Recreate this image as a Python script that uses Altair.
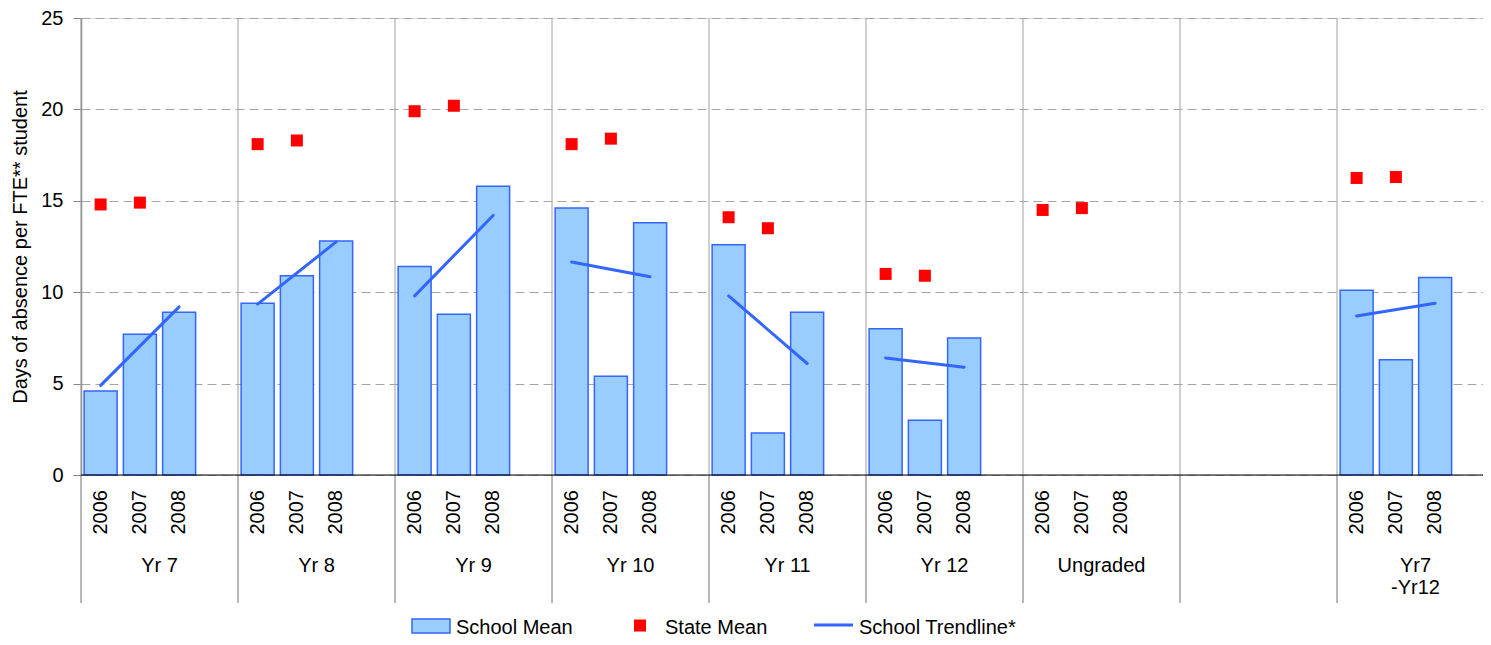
import altair as alt
import pandas as pd

# ---- data ----
groups = ["Yr 7", "Yr 8", "Yr 9", "Yr 10", "Yr 11", "Yr 12", "Ungraded", "", "Yr7\n-Yr12"]
years = ["2006", "2007", "2008"]

school_2006 = [4.6, 9.4, 11.4, 14.6, 12.6, 8.0, None, None, 10.1]
school_2007 = [7.7, 10.9, 8.8, 5.4, 2.3, 3.0, None, None, 6.3]
school_2008 = [8.9, 12.8, 15.8, 13.8, 8.9, 7.5, None, None, 10.8]

state_2006 = [14.8, 18.1, 19.9, 18.1, 14.1, 11.0, 14.5, None, 16.25]
state_2007 = [14.9, 18.3, 20.2, 18.4, 13.5, 10.9, 14.6, None, 16.3]

trend_2006 = [4.9, 9.35, 9.8, 11.65, 9.8, 6.4, None, None, 8.7]
trend_2008 = [9.2, 12.75, 14.2, 10.85, 6.1, 5.9, None, None, 9.4]

y_ticks = [0, 5, 10, 15, 20, 25]
legend_labels = ["School Mean", "State Mean", "School Trendline*"]
y_title = "Days of absence per FTE** student"

# ---- layout / style ----
W, H = 1402, 457
GROUP_PX = 157.0
SLOTS = 4
FONT = "Liberation Sans, Arial, Helvetica, sans-serif"
BAR_FILL = "#99CCFF"
BAR_STROKE = "#3366FF"
LINE_COLOR = "#3366FF"
RED = "#FF0000"

school = [school_2006, school_2007, school_2008]
state = [state_2006, state_2007, [None] * len(groups)]

rows = []
for g, name in enumerate(groups):
    for yi, yr in enumerate(years):
        rows.append({
            "group": name,
            "year": yr,
            "center": g * SLOTS + yi + 0.5,
            "school": school[yi][g],
            "state": state[yi][g],
        })
df = pd.DataFrame(rows)

bars_df = df.dropna(subset=["school"])
state_df = df.dropna(subset=["state"])
years_df = df[df["group"] != ""]

trend_rows = []
for g, name in enumerate(groups):
    if trend_2006[g] is not None:
        trend_rows.append({"group": name, "x1": g * SLOTS + 0.5, "x2": g * SLOTS + 2.5,
                           "y1": trend_2006[g], "y2": trend_2008[g]})
trend_df = pd.DataFrame(trend_rows)

group_df = pd.DataFrame({"group": groups, "gcenter": [g * SLOTS + 2 for g in range(len(groups))]})
group_df = group_df[group_df["group"] != ""]
sep_df = pd.DataFrame({"sep": [g * SLOTS for g in range(len(groups))]})

xscale = alt.Scale(domain=[0, SLOTS * W / GROUP_PX], nice=False, zero=False, padding=0)
yscale = alt.Scale(domain=[0, 25], nice=False, padding=0)

yaxis = alt.Axis(values=y_ticks, grid=True, gridDash=[9, 5],
                 gridColor="#a6a6a6", gridWidth=1, domainColor="#868686",
                 domainWidth=1.5, tickColor="#868686", tickSize=8, tickWidth=1,
                 labelFontSize=20, labelColor="#000000", labelPadding=10,
                 labelFont=FONT, titleFont=FONT,
                 titleFontSize=20, titleFontWeight="normal", titleColor="#000000",
                 titleX=-61, titleY=H / 2, titleAngle=270, titleAlign="center",
                 titleBaseline="middle")


def Y(field):
    return alt.Y(field, scale=yscale, axis=yaxis, title=y_title)


def X(field):
    return alt.X(field, scale=xscale, axis=None)


bars = alt.Chart(bars_df).mark_bar(
    size=33, fill=BAR_FILL, stroke=BAR_STROKE, strokeWidth=1.5
).encode(x=X("center:Q"), y=Y("school:Q"))

sep_top = alt.Chart(sep_df).mark_rule(color="#a0a0a0", strokeWidth=1).encode(
    x=X("sep:Q"), y=alt.value(0), y2=alt.value(H))
sep_bottom = alt.Chart(sep_df).mark_rule(color="#707070", strokeWidth=1).encode(
    x=X("sep:Q"), y=alt.value(H), y2=alt.value(585))

baseline = alt.Chart(pd.DataFrame({"v": [0]})).mark_rule(color="#000000", strokeWidth=1).encode(
    x=alt.value(0), x2=alt.value(W), y=alt.value(H))

points = alt.Chart(state_df).mark_point(
    shape="square", filled=True, size=144, color=RED, opacity=1
).encode(x=X("center:Q"), y=Y("state:Q"))

trend = alt.Chart(trend_df).mark_rule(color=LINE_COLOR, strokeWidth=3, strokeCap="round").encode(
    x=X("x1:Q"), x2="x2:Q", y=Y("y1:Q"), y2="y2:Q")

year_labels = alt.Chart(years_df).mark_text(
    angle=270, align="right", baseline="middle", fontSize=20, font=FONT, color="#000000"
).encode(x=X("center:Q"), y=alt.value(472), text="year:N")

group_labels = alt.Chart(group_df).mark_text(
    align="center", baseline="alphabetic", fontSize=20, font=FONT, color="#000000",
    lineBreak="\n", lineHeight=22
).encode(x=X("gcenter:Q"), y=alt.value(554), text="group:N")

# ---- legend (drawn below the axis) ----
leg1 = pd.DataFrame({"label": [legend_labels[0]]})
leg2 = pd.DataFrame({"label": [legend_labels[1]]})
leg3 = pd.DataFrame({"label": [legend_labels[2]]})
LY = 616  # legend text baseline (plot coords)

leg_rect = alt.Chart(leg1).mark_rect(fill=BAR_FILL, stroke=BAR_STROKE, strokeWidth=1.5).encode(
    x=alt.value(331), x2=alt.value(369), y=alt.value(LY - 15), y2=alt.value(LY - 1))
leg_text1 = alt.Chart(leg1).mark_text(align="left", baseline="alphabetic", fontSize=20,
                                      font=FONT, color="#000000").encode(
    x=alt.value(375), y=alt.value(LY), text="label:N")
leg_sq = alt.Chart(leg2).mark_point(shape="square", filled=True, size=144, color=RED, opacity=1).encode(
    x=alt.value(559), y=alt.value(LY - 8.5))
leg_text2 = alt.Chart(leg2).mark_text(align="left", baseline="alphabetic", fontSize=20,
                                      font=FONT, color="#000000").encode(
    x=alt.value(584), y=alt.value(LY), text="label:N")
leg_line = alt.Chart(leg3).mark_rule(color=LINE_COLOR, strokeWidth=3).encode(
    x=alt.value(733), x2=alt.value(772), y=alt.value(LY - 9))
leg_text3 = alt.Chart(leg3).mark_text(align="left", baseline="alphabetic", fontSize=20,
                                      font=FONT, color="#000000").encode(
    x=alt.value(778), y=alt.value(LY), text="label:N")

chart = alt.layer(
    bars, sep_top, sep_bottom, baseline, points, trend, year_labels, group_labels,
    leg_rect, leg_text1, leg_sq, leg_text2, leg_line, leg_text3,
).properties(
    width=W, height=H,
    autosize=alt.AutoSizeParams(type="none"),
    padding={"left": 73, "top": 10, "right": 0, "bottom": 164},
).configure_view(strokeWidth=0).configure(font=FONT)

chart.save("out.html", embed_options={"renderer": "svg", "actions": False})
